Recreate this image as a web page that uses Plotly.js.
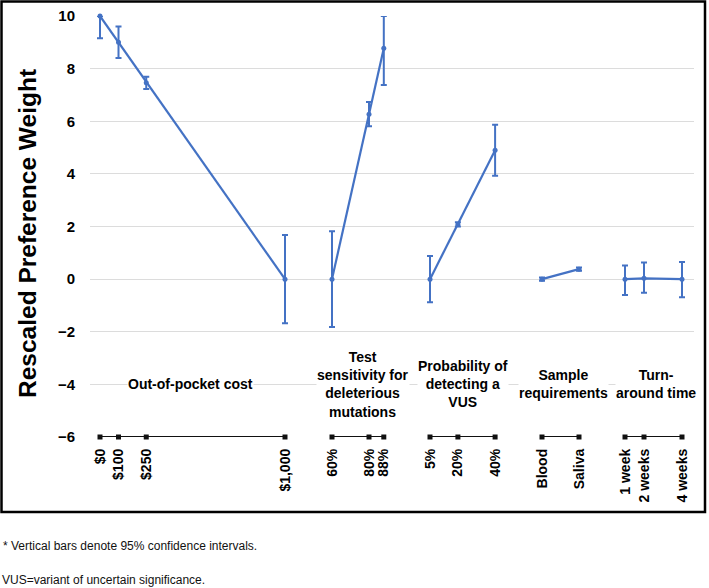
<!DOCTYPE html>
<html>
<head>
<meta charset="utf-8">
<script src="https://cdn.plot.ly/plotly-3.0.1.min.js"></script>
<style>html,body{margin:0;padding:0;background:#fff;}#chart{width:709px;height:588px;}</style>
</head>
<body>
<div id="chart"></div>
<script>
// ---------- DATA ----------
const groupNames = ['Out-of-pocket cost', 'Test<br>sensitivity for<br>deleterious<br>mutations', 'Probability of<br>detecting a<br>VUS', 'Sample<br>requirements', 'Turn-<br>around time'];

const costLevels  = [0, 100, 250, 1000];
const costLabels  = ['$0', '$100', '$250', '$1,000'];
const costWeights = [10, 9.0, 7.46, 0];
const costUpper   = [0, 0.6, 0.23, 1.68];
const costLower   = [0.85, 0.6, 0.23, 1.68];

const sensLevels  = [60, 80, 88];
const sensLabels  = ['60%', '80%', '88%'];
const sensWeights = [0, 6.27, 8.77];
const sensUpper   = [1.82, 0.46, 1.23];
const sensLower   = [1.82, 0.46, 1.39];

const vusLevels   = [5, 20, 40];
const vusLabels   = ['5%', '20%', '40%'];
const vusWeights  = [0, 2.08, 4.9];
const vusUpper    = [0.88, 0.08, 0.97];
const vusLower    = [0.88, 0.08, 0.97];

const sampleLevels  = [0, 1];
const sampleLabels  = ['Blood', 'Saliva'];
const sampleWeights = [0, 0.38];
const sampleUpper   = [0.06, 0.06];
const sampleLower   = [0.06, 0.06];

const tatLevels   = [1, 2, 4];
const tatLabels   = ['1 week', '2 weeks', '4 weeks'];
const tatWeights  = [0, 0.03, 0];
const tatUpper    = [0.52, 0.6, 0.65];
const tatLower    = [0.6, 0.55, 0.69];

// ---------- LAYOUT CONFIG (positions along the x axis) ----------
const W = 709, H = 588;
const M = {l: 90, r: 15, t: 16, b: 151};
const plotW = W - M.l - M.r, plotH = H - M.t - M.b;
const groupStart = [10, 242, 340, 452, 535];
const groupBase  = [0, 60, 5, 0, 1];
const groupScale = [0.185, 1.85, 1.86, 37, 19];
const groupLabelX = [100, 273, 373, 473, 566];

const groups = [
  {lv: costLevels, lb: costLabels, w: costWeights, up: costUpper, lo: costLower},
  {lv: sensLevels, lb: sensLabels, w: sensWeights, up: sensUpper, lo: sensLower},
  {lv: vusLevels, lb: vusLabels, w: vusWeights, up: vusUpper, lo: vusLower},
  {lv: sampleLevels, lb: sampleLabels, w: sampleWeights, up: sampleUpper, lo: sampleLower},
  {lv: tatLevels, lb: tatLabels, w: tatWeights, up: tatUpper, lo: tatLower}
];

const BLUE = '#4472C4';
const FONT = '"Liberation Sans", Arial, sans-serif';
const yMin = -6, yMax = 10;

const px2x = p => (p - M.l) / plotW;
const px2y = p => (H - M.b - p) / plotH;

const traces = [];
const tickvals = [], ticktext = [];
groups.forEach((g, i) => {
  const xs = g.lv.map(v => groupStart[i] + (v - groupBase[i]) * groupScale[i]);
  xs.forEach((x, k) => { tickvals.push(x); ticktext.push(g.lb[k]); });
  // baseline segment at the bottom
  traces.push({
    x: xs, y: xs.map(() => yMin), type: 'scatter', mode: 'lines+markers',
    line: {color: '#111', width: 2.2}, marker: {color: '#111', size: 5, symbol: 'square'},
    cliponaxis: false, hoverinfo: 'skip', showlegend: false
  });
  traces.push({
    x: xs, y: g.w, type: 'scatter', mode: 'lines+markers',
    line: {color: BLUE, width: 2.2}, marker: {color: BLUE, size: 5},
    error_y: {type: 'data', symmetric: false, array: g.up, arrayminus: g.lo,
              color: BLUE, thickness: 2, width: 3},
    cliponaxis: false, showlegend: false
  });
});

const annotations = groupNames.map((t, i) => ({
  x: groupLabelX[i], y: -4, xref: 'x', yref: 'y', text: t, showarrow: false,
  xanchor: 'center', yanchor: 'middle', align: 'center', bgcolor: '#fff', borderpad: 0,
  font: {family: FONT, size: 14, color: '#000', weight: 'bold'}
}));
annotations.push({
  x: px2x(28), y: px2y(234), xref: 'paper', yref: 'paper', text: 'Rescaled Preference Weight',
  textangle: -90, showarrow: false, xanchor: 'center', yanchor: 'middle',
  font: {family: FONT, size: 24.5, color: '#000', weight: 'bold'}
});
annotations.push({
  x: px2x(1), y: px2y(546), xref: 'paper', yref: 'paper', text: '* Vertical bars denote 95% confidence intervals.',
  showarrow: false, xanchor: 'left', yanchor: 'middle',
  font: {family: FONT, size: 12, color: '#111'}
});
annotations.push({
  x: px2x(0), y: px2y(580), xref: 'paper', yref: 'paper', text: 'VUS=variant of uncertain significance.',
  showarrow: false, xanchor: 'left', yanchor: 'middle',
  font: {family: FONT, size: 12, color: '#111'}
});

const layout = {
  width: W, height: H, margin: M, paper_bgcolor: '#fff', plot_bgcolor: '#fff',
  showlegend: false,
  xaxis: {
    range: [0, plotW], tickvals: tickvals, ticktext: ticktext, tickangle: -90,
    showgrid: false, zeroline: false, showline: false, ticks: '', ticklabelstandoff: 8,
    tickfont: {family: FONT, size: 14, color: '#000', weight: 'bold'}, fixedrange: true
  },
  yaxis: {
    range: [yMin, yMax], dtick: 2, tick0: 0, showgrid: true, gridcolor: '#dcdcdc', gridwidth: 1,
    zeroline: false, showline: false, ticks: '', ticklabelstandoff: 14,
    tickfont: {family: FONT, size: 15, color: '#000', weight: 'bold'}, fixedrange: true
  },
  annotations: annotations,
  shapes: [{
    type: 'rect', xref: 'paper', yref: 'paper',
    x0: px2x(1.5), x1: px2x(705), y0: px2y(512), y1: px2y(1.5),
    line: {color: '#000', width: 2.5}, fillcolor: 'rgba(0,0,0,0)'
  }]
};

Plotly.newPlot('chart', traces, layout, {displayModeBar: false, staticPlot: true});
</script>
</body>
</html>
